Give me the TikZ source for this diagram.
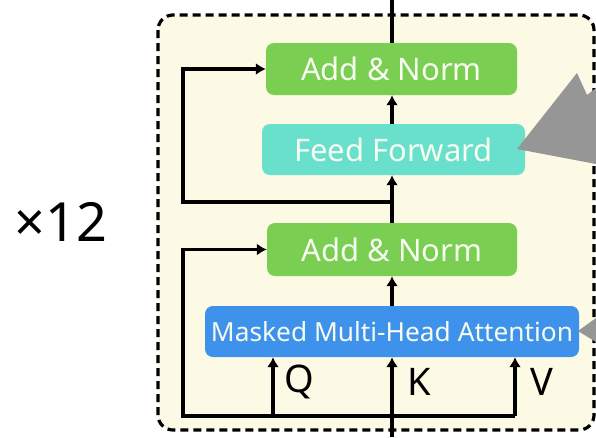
\documentclass[tikz,border=0pt]{standalone}
\usepackage{fontspec}
\setmainfont{Noto Sans}
\usetikzlibrary{arrows.meta}
\definecolor{cream}{RGB}{252,249,228}
\definecolor{normgreen}{RGB}{122,206,82}
\definecolor{ffteal}{RGB}{104,224,204}
\definecolor{attblue}{RGB}{62,146,236}
\definecolor{pointergray}{RGB}{150,150,150}
\definecolor{boxtext}{RGB}{246,252,240}
\tikzset{
  blk/.style={rounded corners=8pt, inner sep=0pt, text=boxtext, font=\fontsize{31}{31}\selectfont},
  wire/.style={line width=3.4pt, black},
  flow/.style={wire, -{Latex[length=10pt,width=12pt]}},
  qkv/.style={font=\fontsize{38}{38}\selectfont}
}
\begin{document}
\begin{tikzpicture}[x=1pt,y=-1pt]
\useasboundingbox (0,0) rectangle (596,437);

% layer frame
\draw[fill=cream, line width=3.2pt, dash pattern=on 8pt off 5pt, rounded corners=15pt]
  (158,15) rectangle (594,430);

% sub-layers
\node[blk, fill=normgreen, minimum width=251pt, minimum height=52pt] (an1) at (391.5,69) {Add \& Norm};
\node[blk, fill=ffteal, minimum width=263pt, minimum height=51pt] (ff) at (393.5,149.5) {Feed Forward};
\node[blk, fill=normgreen, minimum width=250pt, minimum height=53pt] (an2) at (392,249.5) {Add \& Norm};
\node[blk, fill=attblue, minimum width=374pt, minimum height=51pt, font=\fontsize{26.3}{26.3}\selectfont] (mmha) at (392,331.5) {Masked Multi-Head Attention};

% repeat count
\node[font=\fontsize{54}{54}\selectfont] (rep) at (61,222) {×12};

% wiring points (the main stream runs along x = 392)
\coordinate (out) at (392,0);
\coordinate (in) at (392,437);
\coordinate (s1) at (392,202);
\coordinate (s2) at (392,416);
\coordinate (left) at (183,0);
\coordinate (qx) at (273,416);
\coordinate (vx) at (515,416);

% main path
\draw[wire] (out |- an1.north) -- (out);
\draw[flow] (out |- ff.north) -- (out |- an1.south);
\draw[flow] (out |- an2.north) -- (out |- ff.south);
\draw[flow] (mmha.north) -- (out |- an2.south);
\draw[flow] (in) -- (mmha.south);

% residual connections
\draw[flow] (s1) -- (s1 -| left) -- (an1.west -| left) -- (an1.west);
\draw[flow] (vx) -- (s2 -| left) -- (an2.west -| left) -- (an2.west);
\draw[flow] (qx) -- (qx |- mmha.south);
\draw[flow] (vx) -- (vx |- mmha.south);

% inputs
\node[qkv] (q) at (299,382) {Q};
\node[qkv] (k) at (419,382) {K};
\node[qkv] (v) at (542,382) {V};

% incoming pointers
\fill[pointergray] (517,149) -- (577,73) -- (587,95) -- (596,88) -- (596,164) -- cycle;
\fill[pointergray] (578,331) -- (596,318) -- (596,342) -- cycle;
\end{tikzpicture}
\end{document}
